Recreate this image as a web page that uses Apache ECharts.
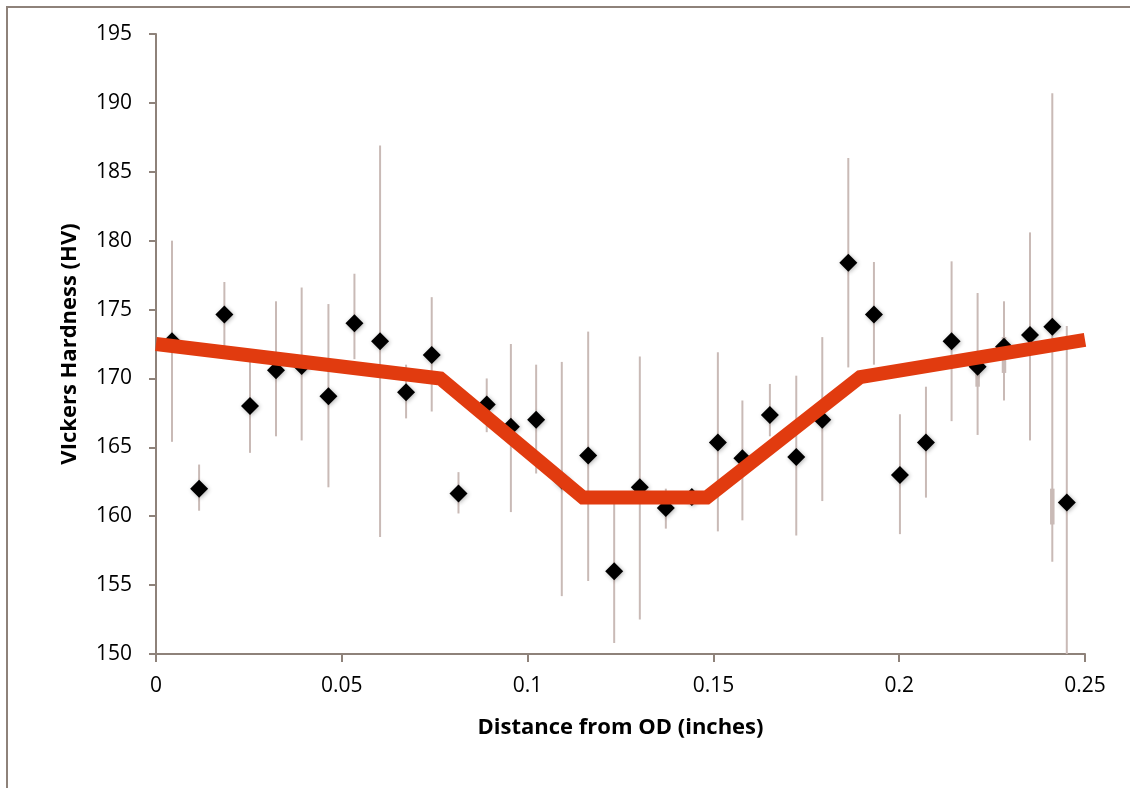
<!DOCTYPE html>
<html>
<head>
<meta charset="utf-8">
<script src="https://cdn.jsdelivr.net/npm/echarts@6/dist/echarts.min.js"></script>
<style>
html,body{margin:0;padding:0;background:#fff;}
#chart{width:1130px;height:788px;}
</style>
</head>
<body>
<div id="chart"></div>
<script>
// Measurement positions (inches from OD)
var distance = [0.0043,0.0116,0.0184,0.0253,0.0323,0.0392,0.0464,0.0534,0.0603,0.0673,0.0742,0.0814,
                0.0890,0.0955,0.1023,0.1092,0.1163,0.1233,0.1302,0.1372,0.1442,0.1512,0.1578,0.1652,
                0.1723,0.1793,0.1863,0.1932,0.2002,0.2072,0.2141,0.2211,0.2282,0.2352,0.2412,0.2451];
// Mean Vickers hardness
var hardness = [172.7,162.0,174.65,168.0,170.6,170.9,168.7,174.0,172.7,169.0,171.7,161.65,
                168.1,166.5,167.0,162.6,164.4,156.0,162.1,160.6,161.4,165.35,164.2,167.35,
                164.3,167.0,178.4,174.65,163.0,165.35,172.7,170.85,172.3,173.15,173.75,161.0];
// Error bar upper / lower ends
var errHigh = [180.0,163.75,177.0,171.2,175.6,176.6,175.4,177.6,186.9,171.0,175.9,163.2,
               170.0,172.5,171.0,171.2,173.4,161.0,171.6,162.0,161.8,171.9,168.4,169.6,
               170.2,173.0,186.0,178.45,167.4,169.4,178.5,176.2,175.6,180.6,190.7,173.8];
var errLow  = [165.4,160.4,172.2,164.6,165.8,165.5,162.1,171.4,158.5,167.1,167.6,160.2,
               166.1,160.3,163.1,154.2,155.3,150.8,152.5,159.1,161.0,158.9,159.7,165.8,
               158.6,161.1,170.8,171.0,158.7,161.35,166.9,165.9,168.4,165.5,156.7,150.0];
// Short thicker bar segments visible near the right end
var extraX    = [0.2211,0.2282,0.2412];
var extraLow  = [169.4,170.4,159.4];
var extraHigh = [171.55,173.0,162.0];
// Piecewise fit line
var fitX = [0, 0.0765, 0.1149, 0.1482, 0.1895, 0.25];
var fitY = [172.5, 170.0, 161.35, 161.35, 170.1, 172.8];
// Axis ticks
var xMin = 0, xMax = 0.25, xStep = 0.05;
var yMin = 150, yMax = 195, yStep = 5;

var axisColor = '#8E827A';
var barColor = '#C9BAB6';
var font = 'Open Sans';

var errData = distance.map(function(x,i){return [x, errLow[i], errHigh[i]];});
var extraData = extraX.map(function(x,i){return [x, extraLow[i], extraHigh[i]];});
var ptData = distance.map(function(x,i){return [x, hardness[i]];});
var fitData = fitX.map(function(x,i){return [x, fitY[i]];});

function barRenderer(width){
  return function(params, api){
    var p1 = api.coord([api.value(0), api.value(1)]);
    var p2 = api.coord([api.value(0), api.value(2)]);
    return {type:'line', shape:{x1:p1[0],y1:p1[1],x2:p2[0],y2:p2[1]},
            style:{stroke:barColor, lineWidth:width}};
  };
}

var chart = echarts.init(document.getElementById('chart'), null, {renderer:'canvas'});
chart.setOption({
  backgroundColor:'#fff',
  animation:false,
  graphic:[{type:'rect', shape:{x:7,y:7,width:1300,height:1000},
            style:{fill:'none', stroke:axisColor, lineWidth:2}, z:-1}],
  grid:{left:156, right:45, top:34, bottom:134, containLabel:false},
  xAxis:{
    type:'value', min:xMin, max:xMax, interval:xStep,
    name:'Distance from OD (inches)', nameLocation:'middle', nameGap:63,
    nameTextStyle:{fontFamily:font, fontWeight:'bold', fontSize:22, color:'#000'},
    axisLine:{show:true, onZero:false, lineStyle:{color:axisColor, width:2}},
    axisTick:{show:true, inside:false, length:8, lineStyle:{color:axisColor, width:2}},
    axisLabel:{fontFamily:font, fontSize:21, color:'#000', margin:22},
    splitLine:{show:false}
  },
  yAxis:{
    type:'value', min:yMin, max:yMax, interval:yStep,
    name:'VIckers Hardness (HV)', nameLocation:'middle', nameGap:75,
    nameTextStyle:{fontFamily:font, fontWeight:'bold', fontSize:22, color:'#000'},
    axisLine:{show:true, onZero:false, lineStyle:{color:axisColor, width:2}},
    axisTick:{show:true, inside:false, length:7, lineStyle:{color:axisColor, width:2}},
    axisLabel:{fontFamily:font, fontSize:21, color:'#000', margin:24},
    splitLine:{show:false}
  },
  series:[
    {type:'custom', renderItem:barRenderer(2), data:errData, z:1, clip:false,
     encode:{x:0, y:[1,2]}},
    {type:'custom', renderItem:barRenderer(4.5), data:extraData, z:1, clip:false,
     encode:{x:0, y:[1,2]}},
    {type:'scatter', data:ptData, symbol:'diamond', symbolSize:18, z:3,
     itemStyle:{color:'#000', opacity:1, shadowBlur:4, shadowColor:'rgba(0,0,0,0.3)', shadowOffsetX:1, shadowOffsetY:1}},
    {type:'line', data:fitData, showSymbol:false, symbol:'none', z:5,
     lineStyle:{color:'#E13B0F', width:14, cap:'butt', join:'miter'}}
  ]
});
</script>
</body>
</html>
